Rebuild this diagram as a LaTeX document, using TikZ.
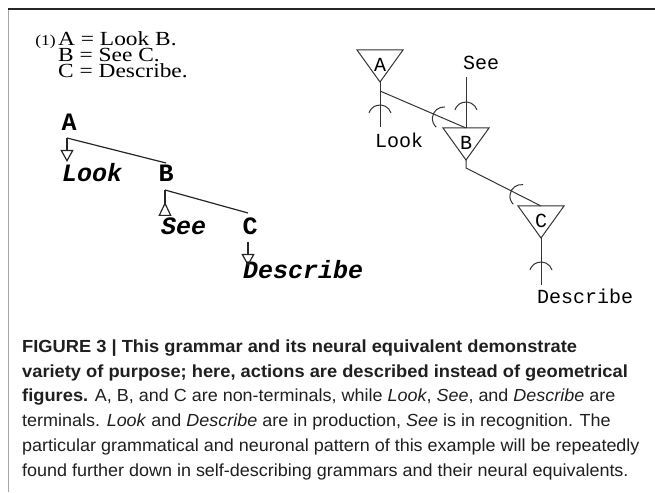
\documentclass[tikz,border=0pt]{standalone}
\usepackage{fontspec}
\setmainfont{Liberation Serif}
\newfontfamily\rulefont[FakeStretch=1.17]{Liberation Serif}
\newfontfamily\monofont{Liberation Mono}
\newfontfamily\captionfont[FakeStretch=1.027, BoldFeatures={FakeStretch=1.045}]{Liberation Sans}
\usetikzlibrary{
    arrows.meta,
    calc,
    positioning
}
\colorlet{captext}{black!88}
\tikzset{
    rule/.style={anchor=base west, inner sep=0pt, font=\rulefont\fontsize{20}{16}\selectfont},
    treename/.style={anchor=base, inner sep=0pt, font=\monofont\bfseries\fontsize{25}{25}\selectfont},
    treeterm/.style={anchor=base west, inner sep=0pt, font=\monofont\bfseries\itshape\fontsize{25}{25}\selectfont},
    treeline/.style={line width=1.2pt, black!85},
    prod/.style={treeline, -{Triangle[open, width=13pt, length=12pt]}},
    recog/.style={treeline, -{Triangle[open, reversed, width=13pt, length=14pt]}},
    cell/.style={draw, line width=1pt, black!80},
    wire/.style={line width=1pt, black!80},
    cellname/.style={inner sep=0pt, font=\monofont\fontsize{20}{20}\selectfont},
    cellterm/.style={anchor=base west, inner sep=0pt, font=\monofont\fontsize{20}{20}\selectfont}
}

\begin{document}
\begin{tikzpicture}[x=1pt, y=1pt]
    \useasboundingbox (0,0) rectangle (655,492);
    % frame
    \draw[gray!70, line width=1pt] (8,483) -- (8,0);
    \draw[black!85, line width=1.5pt] (8,483) -- (655,483);

    % the grammar
    \node[anchor=base east, inner sep=0pt, font=\rulefont\fontsize{15}{15}\selectfont] (num) at (56,446) {(1)};
    \node[rule] (ruleA) at (58,446) {A = Look B.};
    \node[rule] (ruleB) at (58,430) {B = See C.};
    \node[rule] (ruleC) at (58,414) {C = Describe.};

    % parse tree
    \node[treename] (A) at (69,361) {A};
    \node[treeterm] (look) at (62,310) {Look};
    \node[treename] (B) at (166,310) {B};
    \node[treeterm] (see) at (161,257) {See};
    \node[treename] (C) at (250,257) {C};
    \node[treeterm] (describe) at (243,213) {Describe};
    \coordinate (jA) at (67,354);
    \coordinate (jB) at (165,302);
    \coordinate (jC) at (248,250);
    \coordinate (topB) at (166,329);
    \coordinate (topC) at (248,279);
    \coordinate (tipA) at (67,330);
    \coordinate (tipB) at (165,276);
    \coordinate (tipC) at (248,226);
    \draw[treeline] (jA) -- (topB);
    \draw[prod] (jA) -- (tipA);
    \draw[treeline] (jB) -- (topC);
    \draw[recog] (jB) -- (tipB);
    \draw[prod] (jC) -- (tipC);

    % neural equivalent
    \coordinate (nA) at (380,442);
    \coordinate (oA) at (380,410);
    \draw[cell] ($(nA)+(-23,0)$) -- ($(nA)+(23,0)$) -- (oA) -- cycle;
    \node[cellname] (cA) at ($(nA)+(0,-14.5)$) {A};
    \coordinate (nB) at (466,364);
    \coordinate (oB) at (466,332);
    \draw[cell] ($(nB)+(-23,0)$) -- ($(nB)+(23,0)$) -- (oB) -- cycle;
    \node[cellname] (cB) at ($(nB)+(0,-14.5)$) {B};
    \coordinate (nC) at (541,286);
    \coordinate (oC) at (541,254);
    \draw[cell] ($(nC)+(-23,0)$) -- ($(nC)+(23,0)$) -- (oC) -- cycle;
    \node[cellname] (cC) at ($(nC)+(0,-14.5)$) {C};

    \node[cellterm] (nLook) at (375,344) {Look};
    \node[cellterm] (nSee) at (463,422) {See};
    \node[cellterm] (nDescribe) at (537,188) {Describe};
    \coordinate (lookEnd) at (380,365);
    \coordinate (seeStart) at (466,415);
    \coordinate (descEnd) at (541,207);
    \coordinate (jAn) at (380,401);
    \coordinate (jBn) at (466,324);

    \draw[wire] (oA) -- (lookEnd);
    \draw[wire] (jAn) -- (nB);
    \draw[wire] (seeStart) -- (nB);
    \draw[wire] (oB) -- (jBn) -- (nC);
    \draw[wire] (oC) -- (descEnd);

    % synapses
    \begin{scope}[shift={(380,383)}, rotate=-90]
        \draw[wire] (3.9,11) arc[start angle=108.5, end angle=251.5, radius=11.6];
    \end{scope}
    \begin{scope}[shift={($(jAn)!0.663!(nB)$)}, rotate=-23.3]
        \draw[wire] (3.9,11) arc[start angle=108.5, end angle=251.5, radius=11.6];
    \end{scope}
    \begin{scope}[shift={(466,386)}, rotate=-90]
        \draw[wire] (3.9,11) arc[start angle=108.5, end angle=251.5, radius=11.6];
    \end{scope}
    \begin{scope}[shift={($(jBn)!0.65!(nC)$)}, rotate=-26.9]
        \draw[wire] (3.9,11) arc[start angle=108.5, end angle=251.5, radius=11.6];
    \end{scope}
    \begin{scope}[shift={(541,226)}, rotate=-90]
        \draw[wire] (3.9,11) arc[start angle=108.5, end angle=251.5, radius=11.6];
    \end{scope}

    % caption
    \node[anchor=base west, align=left, inner sep=0pt, text=captext,
          font=\captionfont\fontsize{17.5}{24.7}\selectfont] (caption) at (22,16)
        {\textbf{FIGURE 3 | This grammar and its neural equivalent demonstrate}\\
         \textbf{variety of purpose; here, actions are described instead of geometrical}\\
         \textbf{figures.} A, B, and C are non-terminals, while \textit{Look}, \textit{See}, and \textit{Describe} are\\
         terminals. \textit{Look} and \textit{Describe} are in production, \textit{See} is in recognition. The\\
         particular grammatical and neuronal pattern of this example will be repeatedly\\
         found further down in self-describing grammars and their neural equivalents.};
\end{tikzpicture}
\end{document}
